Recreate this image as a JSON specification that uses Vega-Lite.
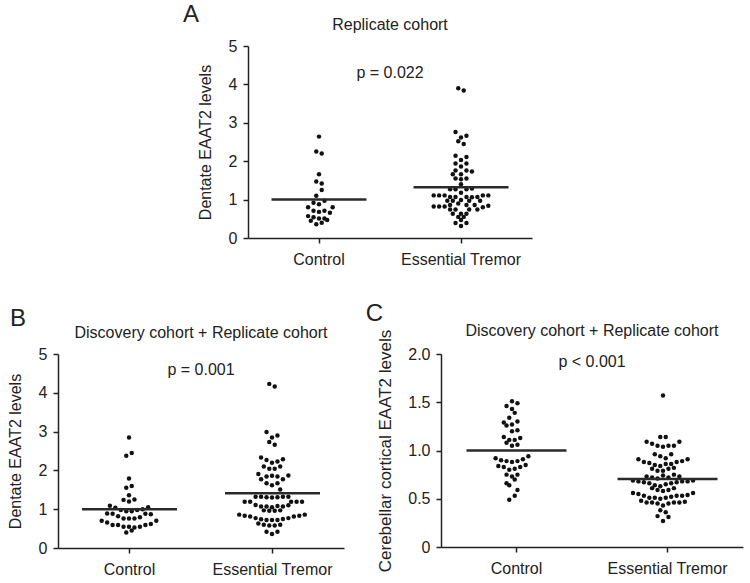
{
  "$schema": "https://vega.github.io/schema/vega-lite/v6.json",
  "padding": {"left": 7, "top": 2, "right": 5, "bottom": 5},
  "background": "white",
  "config": {
    "view": {"stroke": null},
    "font": "Liberation Sans",
    "axis": {
      "grid": false,
      "domainColor": "#222",
      "domainWidth": 1.5,
      "tickColor": "#222",
      "tickWidth": 1.5,
      "tickSize": 5,
      "labelFont": "Liberation Sans",
      "labelFontSize": 16,
      "labelColor": "#222",
      "labelOverlap": false,
      "titleFont": "Liberation Sans",
      "titleFontSize": 16,
      "titleFontWeight": "normal",
      "titleColor": "#222"
    },
    "axisY": {"labelPadding": 6, "titlePadding": 15},
    "axisX": {"labelPadding": 8, "labelAngle": 0, "title": null},
    "title": {"font": "Liberation Sans", "fontWeight": "normal", "fontSize": 24, "color": "#222", "anchor": "start", "baseline": "bottom"}
  },
  "datasets": {
    "dots": [
      {"panel": "A", "group": "Control", "value": 2.64, "slot": 0},
      {"panel": "A", "group": "Control", "value": 2.25, "slot": -1},
      {"panel": "A", "group": "Control", "value": 2.20, "slot": 1},
      {"panel": "A", "group": "Control", "value": 1.66, "slot": 0},
      {"panel": "A", "group": "Control", "value": 1.47, "slot": -1},
      {"panel": "A", "group": "Control", "value": 1.42, "slot": 1},
      {"panel": "A", "group": "Control", "value": 1.25, "slot": 1},
      {"panel": "A", "group": "Control", "value": 1.10, "slot": -1},
      {"panel": "A", "group": "Control", "value": 0.97, "slot": 2},
      {"panel": "A", "group": "Control", "value": 0.92, "slot": -2},
      {"panel": "A", "group": "Control", "value": 0.88, "slot": 0},
      {"panel": "A", "group": "Control", "value": 0.80, "slot": -4},
      {"panel": "A", "group": "Control", "value": 0.80, "slot": 5},
      {"panel": "A", "group": "Control", "value": 0.71, "slot": -2},
      {"panel": "A", "group": "Control", "value": 0.68, "slot": 0},
      {"panel": "A", "group": "Control", "value": 0.71, "slot": 2},
      {"panel": "A", "group": "Control", "value": 0.66, "slot": 4},
      {"panel": "A", "group": "Control", "value": 0.57, "slot": -4},
      {"panel": "A", "group": "Control", "value": 0.54, "slot": -2},
      {"panel": "A", "group": "Control", "value": 0.51, "slot": 0},
      {"panel": "A", "group": "Control", "value": 0.51, "slot": 2},
      {"panel": "A", "group": "Control", "value": 0.45, "slot": -3},
      {"panel": "A", "group": "Control", "value": 0.47, "slot": 3},
      {"panel": "A", "group": "Control", "value": 0.40, "slot": 1},
      {"panel": "A", "group": "Control", "value": 0.36, "slot": -1},

      {"panel": "A", "group": "Essential Tremor", "value": 3.90, "slot": -1},
      {"panel": "A", "group": "Essential Tremor", "value": 3.84, "slot": 1},
      {"panel": "A", "group": "Essential Tremor", "value": 2.76, "slot": -2},
      {"panel": "A", "group": "Essential Tremor", "value": 2.66, "slot": 2},
      {"panel": "A", "group": "Essential Tremor", "value": 2.62, "slot": 0},
      {"panel": "A", "group": "Essential Tremor", "value": 2.52, "slot": -1},
      {"panel": "A", "group": "Essential Tremor", "value": 2.45, "slot": 1},
      {"panel": "A", "group": "Essential Tremor", "value": 2.14, "slot": -2},
      {"panel": "A", "group": "Essential Tremor", "value": 2.11, "slot": 2},
      {"panel": "A", "group": "Essential Tremor", "value": 2.03, "slot": 0},
      {"panel": "A", "group": "Essential Tremor", "value": 1.94, "slot": -2},
      {"panel": "A", "group": "Essential Tremor", "value": 1.94, "slot": 2},
      {"panel": "A", "group": "Essential Tremor", "value": 1.86, "slot": 0},
      {"panel": "A", "group": "Essential Tremor", "value": 1.76, "slot": -2},
      {"panel": "A", "group": "Essential Tremor", "value": 1.76, "slot": 2},
      {"panel": "A", "group": "Essential Tremor", "value": 1.73, "slot": 4},
      {"panel": "A", "group": "Essential Tremor", "value": 1.66, "slot": -3},
      {"panel": "A", "group": "Essential Tremor", "value": 1.66, "slot": 0},
      {"panel": "A", "group": "Essential Tremor", "value": 1.55, "slot": -2},
      {"panel": "A", "group": "Essential Tremor", "value": 1.53, "slot": 0},
      {"panel": "A", "group": "Essential Tremor", "value": 1.55, "slot": 2},
      {"panel": "A", "group": "Essential Tremor", "value": 1.40, "slot": 0},
      {"panel": "A", "group": "Essential Tremor", "value": 1.27, "slot": -4},
      {"panel": "A", "group": "Essential Tremor", "value": 1.27, "slot": -2},
      {"panel": "A", "group": "Essential Tremor", "value": 1.27, "slot": 2},
      {"panel": "A", "group": "Essential Tremor", "value": 1.29, "slot": 4},
      {"panel": "A", "group": "Essential Tremor", "value": 1.18, "slot": 0},
      {"panel": "A", "group": "Essential Tremor", "value": 1.11, "slot": -10},
      {"panel": "A", "group": "Essential Tremor", "value": 1.11, "slot": -8},
      {"panel": "A", "group": "Essential Tremor", "value": 1.11, "slot": -6},
      {"panel": "A", "group": "Essential Tremor", "value": 1.11, "slot": 8},
      {"panel": "A", "group": "Essential Tremor", "value": 1.11, "slot": 10},
      {"panel": "A", "group": "Essential Tremor", "value": 1.07, "slot": -4},
      {"panel": "A", "group": "Essential Tremor", "value": 1.07, "slot": -2},
      {"panel": "A", "group": "Essential Tremor", "value": 1.07, "slot": 2},
      {"panel": "A", "group": "Essential Tremor", "value": 1.06, "slot": 4},
      {"panel": "A", "group": "Essential Tremor", "value": 1.07, "slot": 6},
      {"panel": "A", "group": "Essential Tremor", "value": 0.97, "slot": -5},
      {"panel": "A", "group": "Essential Tremor", "value": 0.97, "slot": -3},
      {"panel": "A", "group": "Essential Tremor", "value": 0.99, "slot": 0},
      {"panel": "A", "group": "Essential Tremor", "value": 0.97, "slot": 3},
      {"panel": "A", "group": "Essential Tremor", "value": 0.97, "slot": 7},
      {"panel": "A", "group": "Essential Tremor", "value": 0.90, "slot": -1},
      {"panel": "A", "group": "Essential Tremor", "value": 0.86, "slot": -4},
      {"panel": "A", "group": "Essential Tremor", "value": 0.86, "slot": 2},
      {"panel": "A", "group": "Essential Tremor", "value": 0.86, "slot": 5},
      {"panel": "A", "group": "Essential Tremor", "value": 0.82, "slot": -10},
      {"panel": "A", "group": "Essential Tremor", "value": 0.82, "slot": -8},
      {"panel": "A", "group": "Essential Tremor", "value": 0.82, "slot": -6},
      {"panel": "A", "group": "Essential Tremor", "value": 0.84, "slot": 10},
      {"panel": "A", "group": "Essential Tremor", "value": 0.80, "slot": 8},
      {"panel": "A", "group": "Essential Tremor", "value": 0.74, "slot": -4},
      {"panel": "A", "group": "Essential Tremor", "value": 0.74, "slot": -2},
      {"panel": "A", "group": "Essential Tremor", "value": 0.74, "slot": 3},
      {"panel": "A", "group": "Essential Tremor", "value": 0.74, "slot": 6},
      {"panel": "A", "group": "Essential Tremor", "value": 0.63, "slot": -3},
      {"panel": "A", "group": "Essential Tremor", "value": 0.63, "slot": 0},
      {"panel": "A", "group": "Essential Tremor", "value": 0.63, "slot": 2},
      {"panel": "A", "group": "Essential Tremor", "value": 0.55, "slot": -1},
      {"panel": "A", "group": "Essential Tremor", "value": 0.55, "slot": 1},
      {"panel": "A", "group": "Essential Tremor", "value": 0.47, "slot": 0},
      {"panel": "A", "group": "Essential Tremor", "value": 0.39, "slot": -2},
      {"panel": "A", "group": "Essential Tremor", "value": 0.39, "slot": 2},
      {"panel": "A", "group": "Essential Tremor", "value": 0.31, "slot": 0},

      {"panel": "B", "group": "Control", "value": 2.85, "slot": 0},
      {"panel": "B", "group": "Control", "value": 2.38, "slot": -1},
      {"panel": "B", "group": "Control", "value": 2.45, "slot": 1},
      {"panel": "B", "group": "Control", "value": 1.79, "slot": 0},
      {"panel": "B", "group": "Control", "value": 1.55, "slot": -1},
      {"panel": "B", "group": "Control", "value": 1.60, "slot": 1},
      {"panel": "B", "group": "Control", "value": 1.36, "slot": 0},
      {"panel": "B", "group": "Control", "value": 1.24, "slot": -2},
      {"panel": "B", "group": "Control", "value": 1.20, "slot": 0},
      {"panel": "B", "group": "Control", "value": 1.25, "slot": 2},
      {"panel": "B", "group": "Control", "value": 1.09, "slot": -7},
      {"panel": "B", "group": "Control", "value": 1.04, "slot": -5},
      {"panel": "B", "group": "Control", "value": 1.05, "slot": 7},
      {"panel": "B", "group": "Control", "value": 0.98, "slot": -3},
      {"panel": "B", "group": "Control", "value": 0.95, "slot": -1},
      {"panel": "B", "group": "Control", "value": 0.95, "slot": 1},
      {"panel": "B", "group": "Control", "value": 0.98, "slot": 3},
      {"panel": "B", "group": "Control", "value": 1.00, "slot": 5},
      {"panel": "B", "group": "Control", "value": 0.89, "slot": -8},
      {"panel": "B", "group": "Control", "value": 0.88, "slot": -6},
      {"panel": "B", "group": "Control", "value": 0.82, "slot": -4},
      {"panel": "B", "group": "Control", "value": 0.88, "slot": 6},
      {"panel": "B", "group": "Control", "value": 0.87, "slot": 8},
      {"panel": "B", "group": "Control", "value": 0.76, "slot": -2},
      {"panel": "B", "group": "Control", "value": 0.76, "slot": 0},
      {"panel": "B", "group": "Control", "value": 0.76, "slot": 2},
      {"panel": "B", "group": "Control", "value": 0.79, "slot": 4},
      {"panel": "B", "group": "Control", "value": 0.70, "slot": -10},
      {"panel": "B", "group": "Control", "value": 0.66, "slot": -8},
      {"panel": "B", "group": "Control", "value": 0.70, "slot": 10},
      {"panel": "B", "group": "Control", "value": 0.59, "slot": -6},
      {"panel": "B", "group": "Control", "value": 0.59, "slot": -4},
      {"panel": "B", "group": "Control", "value": 0.62, "slot": 8},
      {"panel": "B", "group": "Control", "value": 0.59, "slot": 6},
      {"panel": "B", "group": "Control", "value": 0.55, "slot": -2},
      {"panel": "B", "group": "Control", "value": 0.55, "slot": 0},
      {"panel": "B", "group": "Control", "value": 0.53, "slot": 2},
      {"panel": "B", "group": "Control", "value": 0.55, "slot": 4},
      {"panel": "B", "group": "Control", "value": 0.45, "slot": 1},
      {"panel": "B", "group": "Control", "value": 0.40, "slot": -1},

      {"panel": "B", "group": "Essential Tremor", "value": 4.23, "slot": -1},
      {"panel": "B", "group": "Essential Tremor", "value": 4.16, "slot": 1},
      {"panel": "B", "group": "Essential Tremor", "value": 2.99, "slot": -2},
      {"panel": "B", "group": "Essential Tremor", "value": 2.90, "slot": 2},
      {"panel": "B", "group": "Essential Tremor", "value": 2.85, "slot": 0},
      {"panel": "B", "group": "Essential Tremor", "value": 2.73, "slot": -1},
      {"panel": "B", "group": "Essential Tremor", "value": 2.66, "slot": 1},
      {"panel": "B", "group": "Essential Tremor", "value": 2.33, "slot": -4},
      {"panel": "B", "group": "Essential Tremor", "value": 2.27, "slot": -2},
      {"panel": "B", "group": "Essential Tremor", "value": 2.20, "slot": 0},
      {"panel": "B", "group": "Essential Tremor", "value": 2.23, "slot": 2},
      {"panel": "B", "group": "Essential Tremor", "value": 2.29, "slot": 4},
      {"panel": "B", "group": "Essential Tremor", "value": 2.10, "slot": -3},
      {"panel": "B", "group": "Essential Tremor", "value": 2.04, "slot": -1},
      {"panel": "B", "group": "Essential Tremor", "value": 2.04, "slot": 1},
      {"panel": "B", "group": "Essential Tremor", "value": 2.10, "slot": 3},
      {"panel": "B", "group": "Essential Tremor", "value": 1.91, "slot": -5},
      {"panel": "B", "group": "Essential Tremor", "value": 1.84, "slot": -2},
      {"panel": "B", "group": "Essential Tremor", "value": 1.86, "slot": 0},
      {"panel": "B", "group": "Essential Tremor", "value": 1.84, "slot": 2},
      {"panel": "B", "group": "Essential Tremor", "value": 1.87, "slot": 6},
      {"panel": "B", "group": "Essential Tremor", "value": 1.77, "slot": -4},
      {"panel": "B", "group": "Essential Tremor", "value": 1.77, "slot": 4},
      {"panel": "B", "group": "Essential Tremor", "value": 1.67, "slot": -2},
      {"panel": "B", "group": "Essential Tremor", "value": 1.62, "slot": 0},
      {"panel": "B", "group": "Essential Tremor", "value": 1.67, "slot": 2},
      {"panel": "B", "group": "Essential Tremor", "value": 1.51, "slot": 3},
      {"panel": "B", "group": "Essential Tremor", "value": 1.32, "slot": -6},
      {"panel": "B", "group": "Essential Tremor", "value": 1.32, "slot": -4},
      {"panel": "B", "group": "Essential Tremor", "value": 1.31, "slot": -2},
      {"panel": "B", "group": "Essential Tremor", "value": 1.30, "slot": 0},
      {"panel": "B", "group": "Essential Tremor", "value": 1.31, "slot": 2},
      {"panel": "B", "group": "Essential Tremor", "value": 1.32, "slot": 4},
      {"panel": "B", "group": "Essential Tremor", "value": 1.32, "slot": 6},
      {"panel": "B", "group": "Essential Tremor", "value": 1.19, "slot": -10},
      {"panel": "B", "group": "Essential Tremor", "value": 1.19, "slot": -8},
      {"panel": "B", "group": "Essential Tremor", "value": 1.19, "slot": 7},
      {"panel": "B", "group": "Essential Tremor", "value": 1.19, "slot": 9},
      {"panel": "B", "group": "Essential Tremor", "value": 1.19, "slot": 11},
      {"panel": "B", "group": "Essential Tremor", "value": 1.11, "slot": -6},
      {"panel": "B", "group": "Essential Tremor", "value": 1.07, "slot": -4},
      {"panel": "B", "group": "Essential Tremor", "value": 1.07, "slot": -2},
      {"panel": "B", "group": "Essential Tremor", "value": 1.05, "slot": 0},
      {"panel": "B", "group": "Essential Tremor", "value": 1.08, "slot": 2},
      {"panel": "B", "group": "Essential Tremor", "value": 1.07, "slot": 4},
      {"panel": "B", "group": "Essential Tremor", "value": 1.10, "slot": 6},
      {"panel": "B", "group": "Essential Tremor", "value": 0.97, "slot": -3},
      {"panel": "B", "group": "Essential Tremor", "value": 0.96, "slot": -1},
      {"panel": "B", "group": "Essential Tremor", "value": 0.96, "slot": 1},
      {"panel": "B", "group": "Essential Tremor", "value": 0.97, "slot": 3},
      {"panel": "B", "group": "Essential Tremor", "value": 0.86, "slot": -12},
      {"panel": "B", "group": "Essential Tremor", "value": 0.83, "slot": -10},
      {"panel": "B", "group": "Essential Tremor", "value": 0.81, "slot": -8},
      {"panel": "B", "group": "Essential Tremor", "value": 0.77, "slot": -6},
      {"panel": "B", "group": "Essential Tremor", "value": 0.74, "slot": -4},
      {"panel": "B", "group": "Essential Tremor", "value": 0.72, "slot": -2},
      {"panel": "B", "group": "Essential Tremor", "value": 0.72, "slot": 0},
      {"panel": "B", "group": "Essential Tremor", "value": 0.72, "slot": 2},
      {"panel": "B", "group": "Essential Tremor", "value": 0.75, "slot": 4},
      {"panel": "B", "group": "Essential Tremor", "value": 0.77, "slot": 6},
      {"panel": "B", "group": "Essential Tremor", "value": 0.81, "slot": 8},
      {"panel": "B", "group": "Essential Tremor", "value": 0.83, "slot": 10},
      {"panel": "B", "group": "Essential Tremor", "value": 0.86, "slot": 12},
      {"panel": "B", "group": "Essential Tremor", "value": 0.63, "slot": -5},
      {"panel": "B", "group": "Essential Tremor", "value": 0.60, "slot": -3},
      {"panel": "B", "group": "Essential Tremor", "value": 0.58, "slot": -1},
      {"panel": "B", "group": "Essential Tremor", "value": 0.58, "slot": 1},
      {"panel": "B", "group": "Essential Tremor", "value": 0.60, "slot": 3},
      {"panel": "B", "group": "Essential Tremor", "value": 0.42, "slot": -2},
      {"panel": "B", "group": "Essential Tremor", "value": 0.36, "slot": 0},
      {"panel": "B", "group": "Essential Tremor", "value": 0.42, "slot": 2},

      {"panel": "C", "group": "Control", "value": 1.51, "slot": 0},
      {"panel": "C", "group": "Control", "value": 1.49, "slot": 2},
      {"panel": "C", "group": "Control", "value": 1.46, "slot": -2},
      {"panel": "C", "group": "Control", "value": 1.43, "slot": 0},
      {"panel": "C", "group": "Control", "value": 1.39, "slot": 1},
      {"panel": "C", "group": "Control", "value": 1.34, "slot": -1},
      {"panel": "C", "group": "Control", "value": 1.30, "slot": 2},
      {"panel": "C", "group": "Control", "value": 1.29, "slot": -3},
      {"panel": "C", "group": "Control", "value": 1.26, "slot": -2},
      {"panel": "C", "group": "Control", "value": 1.27, "slot": 0},
      {"panel": "C", "group": "Control", "value": 1.21, "slot": 2},
      {"panel": "C", "group": "Control", "value": 1.20, "slot": 0},
      {"panel": "C", "group": "Control", "value": 1.14, "slot": -3},
      {"panel": "C", "group": "Control", "value": 1.11, "slot": -1},
      {"panel": "C", "group": "Control", "value": 1.11, "slot": 1},
      {"panel": "C", "group": "Control", "value": 1.13, "slot": 3},
      {"panel": "C", "group": "Control", "value": 1.08, "slot": -2},
      {"panel": "C", "group": "Control", "value": 1.05, "slot": 0},
      {"panel": "C", "group": "Control", "value": 1.06, "slot": 2},
      {"panel": "C", "group": "Control", "value": 0.92, "slot": -6},
      {"panel": "C", "group": "Control", "value": 0.90, "slot": -4},
      {"panel": "C", "group": "Control", "value": 0.89, "slot": -2},
      {"panel": "C", "group": "Control", "value": 0.88, "slot": 0},
      {"panel": "C", "group": "Control", "value": 0.89, "slot": 2},
      {"panel": "C", "group": "Control", "value": 0.91, "slot": 4},
      {"panel": "C", "group": "Control", "value": 0.94, "slot": 6},
      {"panel": "C", "group": "Control", "value": 0.84, "slot": -5},
      {"panel": "C", "group": "Control", "value": 0.83, "slot": -3},
      {"panel": "C", "group": "Control", "value": 0.80, "slot": -1},
      {"panel": "C", "group": "Control", "value": 0.81, "slot": 1},
      {"panel": "C", "group": "Control", "value": 0.83, "slot": 3},
      {"panel": "C", "group": "Control", "value": 0.85, "slot": 5},
      {"panel": "C", "group": "Control", "value": 0.75, "slot": -2},
      {"panel": "C", "group": "Control", "value": 0.73, "slot": 0},
      {"panel": "C", "group": "Control", "value": 0.75, "slot": 2},
      {"panel": "C", "group": "Control", "value": 0.70, "slot": 1},
      {"panel": "C", "group": "Control", "value": 0.66, "slot": -2},
      {"panel": "C", "group": "Control", "value": 0.64, "slot": -1},
      {"panel": "C", "group": "Control", "value": 0.59, "slot": 2},
      {"panel": "C", "group": "Control", "value": 0.53, "slot": 1},
      {"panel": "C", "group": "Control", "value": 0.49, "slot": -1},

      {"panel": "C", "group": "Essential Tremor", "value": 1.57, "slot": 0},
      {"panel": "C", "group": "Essential Tremor", "value": 1.14, "slot": -1},
      {"panel": "C", "group": "Essential Tremor", "value": 1.14, "slot": 1},
      {"panel": "C", "group": "Essential Tremor", "value": 1.09, "slot": -6},
      {"panel": "C", "group": "Essential Tremor", "value": 1.07, "slot": -4},
      {"panel": "C", "group": "Essential Tremor", "value": 1.05, "slot": -2},
      {"panel": "C", "group": "Essential Tremor", "value": 1.04, "slot": 0},
      {"panel": "C", "group": "Essential Tremor", "value": 1.05, "slot": 2},
      {"panel": "C", "group": "Essential Tremor", "value": 1.05, "slot": 4},
      {"panel": "C", "group": "Essential Tremor", "value": 1.09, "slot": 6},
      {"panel": "C", "group": "Essential Tremor", "value": 0.96, "slot": -3},
      {"panel": "C", "group": "Essential Tremor", "value": 0.94, "slot": -1},
      {"panel": "C", "group": "Essential Tremor", "value": 0.92, "slot": 1},
      {"panel": "C", "group": "Essential Tremor", "value": 0.96, "slot": 3},
      {"panel": "C", "group": "Essential Tremor", "value": 0.91, "slot": -9},
      {"panel": "C", "group": "Essential Tremor", "value": 0.88, "slot": -7},
      {"panel": "C", "group": "Essential Tremor", "value": 0.87, "slot": -5},
      {"panel": "C", "group": "Essential Tremor", "value": 0.85, "slot": -3},
      {"panel": "C", "group": "Essential Tremor", "value": 0.84, "slot": -1},
      {"panel": "C", "group": "Essential Tremor", "value": 0.86, "slot": 1},
      {"panel": "C", "group": "Essential Tremor", "value": 0.86, "slot": 3},
      {"panel": "C", "group": "Essential Tremor", "value": 0.88, "slot": 5},
      {"panel": "C", "group": "Essential Tremor", "value": 0.89, "slot": 7},
      {"panel": "C", "group": "Essential Tremor", "value": 0.91, "slot": 9},
      {"panel": "C", "group": "Essential Tremor", "value": 0.81, "slot": -4},
      {"panel": "C", "group": "Essential Tremor", "value": 0.79, "slot": -2},
      {"panel": "C", "group": "Essential Tremor", "value": 0.79, "slot": 0},
      {"panel": "C", "group": "Essential Tremor", "value": 0.81, "slot": 2},
      {"panel": "C", "group": "Essential Tremor", "value": 0.82, "slot": 4},
      {"panel": "C", "group": "Essential Tremor", "value": 0.73, "slot": -6},
      {"panel": "C", "group": "Essential Tremor", "value": 0.72, "slot": -4},
      {"panel": "C", "group": "Essential Tremor", "value": 0.71, "slot": -2},
      {"panel": "C", "group": "Essential Tremor", "value": 0.74, "slot": 0},
      {"panel": "C", "group": "Essential Tremor", "value": 0.72, "slot": 2},
      {"panel": "C", "group": "Essential Tremor", "value": 0.75, "slot": 4},
      {"panel": "C", "group": "Essential Tremor", "value": 0.73, "slot": 6},
      {"panel": "C", "group": "Essential Tremor", "value": 0.69, "slot": -11},
      {"panel": "C", "group": "Essential Tremor", "value": 0.68, "slot": -9},
      {"panel": "C", "group": "Essential Tremor", "value": 0.67, "slot": -7},
      {"panel": "C", "group": "Essential Tremor", "value": 0.66, "slot": -5},
      {"panel": "C", "group": "Essential Tremor", "value": 0.64, "slot": -3},
      {"panel": "C", "group": "Essential Tremor", "value": 0.63, "slot": -1},
      {"panel": "C", "group": "Essential Tremor", "value": 0.65, "slot": 1},
      {"panel": "C", "group": "Essential Tremor", "value": 0.66, "slot": 3},
      {"panel": "C", "group": "Essential Tremor", "value": 0.67, "slot": 5},
      {"panel": "C", "group": "Essential Tremor", "value": 0.68, "slot": 7},
      {"panel": "C", "group": "Essential Tremor", "value": 0.68, "slot": 9},
      {"panel": "C", "group": "Essential Tremor", "value": 0.69, "slot": 11},
      {"panel": "C", "group": "Essential Tremor", "value": 0.61, "slot": -4},
      {"panel": "C", "group": "Essential Tremor", "value": 0.59, "slot": -2},
      {"panel": "C", "group": "Essential Tremor", "value": 0.58, "slot": 0},
      {"panel": "C", "group": "Essential Tremor", "value": 0.59, "slot": 2},
      {"panel": "C", "group": "Essential Tremor", "value": 0.61, "slot": 4},
      {"panel": "C", "group": "Essential Tremor", "value": 0.56, "slot": -11},
      {"panel": "C", "group": "Essential Tremor", "value": 0.55, "slot": -9},
      {"panel": "C", "group": "Essential Tremor", "value": 0.53, "slot": -7},
      {"panel": "C", "group": "Essential Tremor", "value": 0.51, "slot": -5},
      {"panel": "C", "group": "Essential Tremor", "value": 0.51, "slot": -3},
      {"panel": "C", "group": "Essential Tremor", "value": 0.50, "slot": -1},
      {"panel": "C", "group": "Essential Tremor", "value": 0.51, "slot": 1},
      {"panel": "C", "group": "Essential Tremor", "value": 0.52, "slot": 3},
      {"panel": "C", "group": "Essential Tremor", "value": 0.53, "slot": 5},
      {"panel": "C", "group": "Essential Tremor", "value": 0.53, "slot": 7},
      {"panel": "C", "group": "Essential Tremor", "value": 0.54, "slot": 9},
      {"panel": "C", "group": "Essential Tremor", "value": 0.56, "slot": 11},
      {"panel": "C", "group": "Essential Tremor", "value": 0.48, "slot": -8},
      {"panel": "C", "group": "Essential Tremor", "value": 0.46, "slot": -6},
      {"panel": "C", "group": "Essential Tremor", "value": 0.46, "slot": -4},
      {"panel": "C", "group": "Essential Tremor", "value": 0.45, "slot": -2},
      {"panel": "C", "group": "Essential Tremor", "value": 0.43, "slot": 0},
      {"panel": "C", "group": "Essential Tremor", "value": 0.45, "slot": 2},
      {"panel": "C", "group": "Essential Tremor", "value": 0.46, "slot": 4},
      {"panel": "C", "group": "Essential Tremor", "value": 0.46, "slot": 6},
      {"panel": "C", "group": "Essential Tremor", "value": 0.47, "slot": 8},
      {"panel": "C", "group": "Essential Tremor", "value": 0.38, "slot": -1},
      {"panel": "C", "group": "Essential Tremor", "value": 0.36, "slot": 1},
      {"panel": "C", "group": "Essential Tremor", "value": 0.32, "slot": -2},
      {"panel": "C", "group": "Essential Tremor", "value": 0.31, "slot": 2},
      {"panel": "C", "group": "Essential Tremor", "value": 0.27, "slot": 0}
    ],
    "means": [
      {"panel": "A", "group": "Control", "mean": 1.0},
      {"panel": "A", "group": "Essential Tremor", "mean": 1.32},
      {"panel": "B", "group": "Control", "mean": 1.0},
      {"panel": "B", "group": "Essential Tremor", "mean": 1.41},
      {"panel": "C", "group": "Control", "mean": 1.0},
      {"panel": "C", "group": "Essential Tremor", "mean": 0.705}
    ],
    "notes": [
      {"panel": "A", "label": "Replicate cohort", "yv": 5.55},
      {"panel": "A", "label": "p = 0.022", "yv": 4.3},
      {"panel": "B", "label": "Discovery cohort + Replicate cohort", "yv": 5.54},
      {"panel": "B", "label": "p = 0.001", "yv": 4.59},
      {"panel": "C", "label": "Discovery cohort + Replicate cohort", "yv": 2.24},
      {"panel": "C", "label": "p < 0.001", "yv": 1.92}
    ]
  },
  "spacing": 34,
  "vconcat": [
    {
      "spacing": 0,
      "hconcat": [
        {
          "width": 125,
          "height": 20,
          "data": {"values": [{"blank": ""}]},
          "mark": {"type": "text"},
          "encoding": {"text": {"field": "blank"}}
        },
        {
          "width": 284,
          "height": 192,
          "title": {"text": "A", "offset": -10, "dx": -14},
          "layer": [
            {
              "data": {"name": "dots"},
              "transform": [{"filter": "datum.panel === 'A'"}],
              "mark": {"type": "point", "filled": true, "size": 20, "color": "#111", "opacity": 1},
              "encoding": {
                "x": {"field": "group", "type": "nominal", "scale": {"domain": ["Control", "Essential Tremor"], "paddingInner": 0, "paddingOuter": 0}},
                "xOffset": {"field": "slot", "type": "quantitative", "scale": {"domain": [-24.5, 24.5], "range": [0, 142]}},
                "y": {"field": "value", "type": "quantitative", "scale": {"domain": [0, 5]}, "axis": {"title": "Dentate EAAT2 levels", "values": [0, 1, 2, 3, 4, 5]}}
              }
            },
            {
              "data": {"name": "means"},
              "transform": [{"filter": "datum.panel === 'A'"}],
              "mark": {"type": "tick", "size": 95, "thickness": 2.5, "color": "#2a2a2a", "opacity": 1},
              "encoding": {
                "x": {"field": "group", "type": "nominal"},
                "y": {"field": "mean", "type": "quantitative", "axis": {"title": "Dentate EAAT2 levels", "values": [0, 1, 2, 3, 4, 5]}}
              }
            },
            {
              "data": {"name": "notes"},
              "transform": [{"filter": "datum.panel === 'A'"}],
              "mark": {"type": "text", "fontSize": 16, "color": "#222", "baseline": "middle", "align": "center"},
              "encoding": {
                "y": {"field": "yv", "type": "quantitative", "axis": {"title": "Dentate EAAT2 levels", "values": [0, 1, 2, 3, 4, 5]}},
                "text": {"field": "label"}
              }
            }
          ]
        }
      ]
    },
    {
      "spacing": 21,
      "hconcat": [
        {
          "width": 286,
          "height": 194,
          "title": {"text": "B", "offset": -6, "dx": 3},
          "layer": [
            {
              "data": {"name": "dots"},
              "transform": [{"filter": "datum.panel === 'B'"}],
              "mark": {"type": "point", "filled": true, "size": 20, "color": "#111", "opacity": 1},
              "encoding": {
                "x": {"field": "group", "type": "nominal", "scale": {"domain": ["Control", "Essential Tremor"], "paddingInner": 0, "paddingOuter": 0}},
                "xOffset": {"field": "slot", "type": "quantitative", "scale": {"domain": [-24.66, 24.66], "range": [0, 143]}},
                "y": {"field": "value", "type": "quantitative", "scale": {"domain": [0, 5]}, "axis": {"title": "Dentate EAAT2 levels", "values": [0, 1, 2, 3, 4, 5]}}
              }
            },
            {
              "data": {"name": "means"},
              "transform": [{"filter": "datum.panel === 'B'"}],
              "mark": {"type": "tick", "size": 95, "thickness": 2.5, "color": "#2a2a2a", "opacity": 1},
              "encoding": {
                "x": {"field": "group", "type": "nominal"},
                "y": {"field": "mean", "type": "quantitative", "axis": {"title": "Dentate EAAT2 levels", "values": [0, 1, 2, 3, 4, 5]}}
              }
            },
            {
              "data": {"name": "notes"},
              "transform": [{"filter": "datum.panel === 'B'"}],
              "mark": {"type": "text", "fontSize": 16, "color": "#222", "baseline": "middle", "align": "center"},
              "encoding": {
                "y": {"field": "yv", "type": "quantitative", "axis": {"title": "Dentate EAAT2 levels", "values": [0, 1, 2, 3, 4, 5]}},
                "text": {"field": "label"}
              }
            }
          ]
        },
        {
          "width": 302,
          "height": 193,
          "title": {"text": "C", "offset": -3, "dx": -11},
          "layer": [
            {
              "data": {"name": "dots"},
              "transform": [{"filter": "datum.panel === 'C'"}],
              "mark": {"type": "point", "filled": true, "size": 20, "color": "#111", "opacity": 1},
              "encoding": {
                "x": {"field": "group", "type": "nominal", "scale": {"domain": ["Control", "Essential Tremor"], "paddingInner": 0, "paddingOuter": 0}},
                "xOffset": {"field": "slot", "type": "quantitative", "scale": {"domain": [-26, 26], "range": [0, 151]}},
                "y": {"field": "value", "type": "quantitative", "scale": {"domain": [0, 2]}, "axis": {"title": "Cerebellar cortical EAAT2 levels", "titleFontSize": 17, "titlePadding": 13, "values": [0, 0.5, 1, 1.5, 2], "labelExpr": "datum.value === 0 ? '0' : format(datum.value, '.1f')"}}
              }
            },
            {
              "data": {"name": "means"},
              "transform": [{"filter": "datum.panel === 'C'"}],
              "mark": {"type": "tick", "size": 100, "thickness": 2.5, "color": "#2a2a2a", "opacity": 1},
              "encoding": {
                "x": {"field": "group", "type": "nominal"},
                "y": {"field": "mean", "type": "quantitative", "axis": {"title": "Cerebellar cortical EAAT2 levels", "titleFontSize": 17, "titlePadding": 13, "values": [0, 0.5, 1, 1.5, 2], "labelExpr": "datum.value === 0 ? '0' : format(datum.value, '.1f')"}}
              }
            },
            {
              "data": {"name": "notes"},
              "transform": [{"filter": "datum.panel === 'C'"}],
              "mark": {"type": "text", "fontSize": 16, "color": "#222", "baseline": "middle", "align": "center"},
              "encoding": {
                "y": {"field": "yv", "type": "quantitative", "axis": {"title": "Cerebellar cortical EAAT2 levels", "titleFontSize": 17, "titlePadding": 13, "values": [0, 0.5, 1, 1.5, 2], "labelExpr": "datum.value === 0 ? '0' : format(datum.value, '.1f')"}},
                "text": {"field": "label"}
              }
            }
          ]
        }
      ]
    }
  ]
}
